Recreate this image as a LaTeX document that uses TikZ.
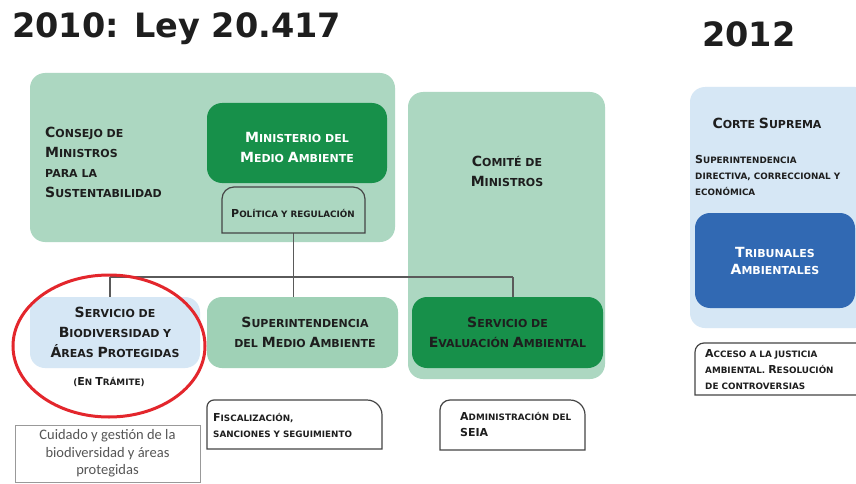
\documentclass[tikz,border=0pt]{standalone}
\usepackage{fontspec}
\usetikzlibrary{shapes.geometric}
\newfontfamily\dvfont{DejaVu Sans}
\newfontfamily\carlfont{Carlito}
\definecolor{lgreen}{HTML}{ACD7C1}
\definecolor{mgreen}{HTML}{9FD1B6}
\definecolor{dgreen}{HTML}{17904A}
\definecolor{lblue}{HTML}{D6E7F5}
\definecolor{dblue}{HTML}{3169B3}
\definecolor{redc}{HTML}{E3262C}
\definecolor{txtc}{HTML}{1E1E1E}
\definecolor{linec}{HTML}{5A5A5A}
\definecolor{outc}{HTML}{454545}
\definecolor{grayt}{HTML}{555555}
\newcommand\inisz{14}
\newcommand\Ini[1]{{\fontsize{\inisz}{\inisz}\selectfont #1}}
\newcommand\tabshape[3]{\draw[outl] (#1.south west) -- ([yshift=-#2pt]#1.north west) arc[start angle=180,end angle=90,radius=#2pt] -- ([xshift=-#3pt]#1.north east) arc[start angle=90,end angle=0,radius=#3pt] -- (#1.south east) -- cycle;}
\begin{document}
\begin{tikzpicture}[x=1pt,y=1pt,
  panel/.style={draw=none, rounded corners=15pt, inner sep=0pt, outer sep=0pt},
  scone/.style={font={\dvfont\bfseries\def\inisz{14}\fontsize{11}{20}\selectfont}, text=txtc, inner sep=0pt, align=center},
  sctwo/.style={font={\dvfont\bfseries\def\inisz{11}\fontsize{8.8}{16}\selectfont}, text=txtc, inner sep=0pt},
  tabbox/.style={inner sep=0pt, outer sep=0pt},
  outl/.style={draw=outc, line width=1.2pt},
  conn/.style={draw=linec, line width=1.6pt},
  titlef/.style={font={\dvfont\bfseries\fontsize{33.5}{40}\selectfont}, text=txtc, inner sep=0pt}
]
\clip (0,0) rectangle (856,483);
\fill[white] (0,0) rectangle (856,483);

% titles
\node[titlef, anchor=base west] (title) at (12,445.5) {2010: Ley 20.417};
\node[titlef, anchor=base west] (y2012) at (702,436.5) {2012};

% containers
\node[panel, fill=lgreen, minimum width=365pt, minimum height=169pt] (consejo) at (212.5,325.5) {};
\node[panel, fill=lgreen, minimum width=197pt, minimum height=287pt] (comite) at (506.5,247.5) {};
\node[panel, fill=lblue, minimum width=180pt, minimum height=241pt] (corte) at (780,275.5) {};

\node[scone, align=left, anchor=west] (consejot) at (45,320.5) {\Ini{C}ONSEJO DE\\\Ini{M}INISTROS\\PARA LA\\\Ini{S}USTENTABILIDAD};
\node[scone] (comitet) at (507,312) {\Ini{C}OMITÉ DE\\\Ini{M}INISTROS};
\node[scone] (cortet) at (767,360) {\Ini{C}ORTE \Ini{S}UPREMA};
\node[sctwo, align=left, anchor=west] (cortesub) at (695,308) {\Ini{S}UPERINTENDENCIA\\DIRECTIVA, CORRECCIONAL Y\\ECONÓMICA};

% connectors
\node[tabbox, minimum width=143pt, minimum height=46pt] (pol) at (293.5,273) {};
\node[panel, fill=lblue, minimum width=170pt, minimum height=71pt] (bio) at (115,150.5) {};
\node[panel, fill=mgreen, minimum width=191pt, minimum height=71pt] (super) at (302.5,150.5) {};
\node[panel, fill=dgreen, minimum width=191pt, minimum height=71pt] (sea) at (507.5,150.5) {};
\coordinate (busL) at (110,206);
\coordinate (busR) at (513,206);
\draw[conn] (pol.south) -- (pol.south |- super.north);
\draw[conn] (busL) -- (busR);
\draw[conn] (busL) -- (busL |- bio.north);
\draw[conn] (busR) -- (busR |- sea.north);

% boxes
\node[panel, fill=dgreen, minimum width=180pt, minimum height=80pt] (minis) at (297,340) {};
\node[scone, text=white] (minist) at (297,335.5) {\Ini{M}INISTERIO DEL\\\Ini{M}EDIO \Ini{A}MBIENTE};
\tabshape{pol}{12}{12}
\node[sctwo] (polt) at (293,270) {\Ini{P}OLÍTICA Y REGULACIÓN};

\node[scone] (biot) at (bio.center) {\Ini{S}ERVICIO DE\\\Ini{B}IODIVERSIDAD Y\\\Ini{Á}REAS \Ini{P}ROTEGIDAS};
\node[sctwo] (tramite) at (109,101) {(\Ini{E}N \Ini{T}RÁMITE)};
\node[scone] (supert) at (305,150.5) {\Ini{S}UPERINTENDENCIA\\DEL \Ini{M}EDIO \Ini{A}MBIENTE};
\node[scone] (seat) at (sea.center) {\Ini{S}ERVICIO DE\\\Ini{E}VALUACIÓN \Ini{A}MBIENTAL};

\node[panel, fill=dblue, minimum width=160pt, minimum height=95pt, scone, text=white, font={\dvfont\bfseries\def\inisz{14}\fontsize{11}{17}\selectfont}] (trib) at (775,222.5) {\Ini{T}RIBUNALES\\\Ini{A}MBIENTALES};

% lower description boxes
\node[tabbox, minimum width=175pt, minimum height=49pt] (fisc) at (294.5,58.5) {};
\tabshape{fisc}{7}{15}
\node[sctwo, align=left, anchor=west] (fisct) at (213,58) {\Ini{F}ISCALIZACIÓN,\\SANCIONES Y SEGUIMIENTO};

\node[tabbox, minimum width=145pt, minimum height=50pt] (adm) at (512.5,58) {};
\tabshape{adm}{10}{15}
\node[sctwo, align=left, anchor=west] (admt) at (460,59) {\Ini{A}DMINISTRACIÓN DEL\\\Ini{SEIA}};

\node[tabbox, minimum width=175pt, minimum height=52pt] (acc) at (782.5,114) {};
\tabshape{acc}{9}{12}
\node[sctwo, align=left, anchor=west] (acct) at (705,113) {\Ini{A}CCESO A LA JUSTICIA\\AMBIENTAL. \Ini{R}ESOLUCIÓN\\DE CONTROVERSIAS};

\node[draw=gray!80, line width=1pt, minimum width=185pt, minimum height=57pt, inner sep=0pt, align=center, text=grayt, font={\carlfont\fontsize{14.5}{17.5}\selectfont}] (cuidado) at (107.5,29.5) {Cuidado y gestión de la\\biodiversidad y áreas\\protegidas};

% red highlight
\node[ellipse, draw=redc, line width=3pt, minimum width=192pt, minimum height=142pt, inner sep=0pt] (circ) at (109,137) {};
\end{tikzpicture}
\end{document}
